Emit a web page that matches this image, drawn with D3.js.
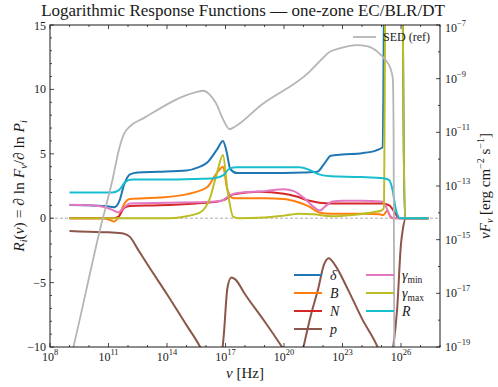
<!DOCTYPE html>
<html>
<head>
<meta charset="utf-8">
<script src="https://cdn.jsdelivr.net/npm/d3@7"></script>
<style>
body{margin:0;background:#fff;}
</style>
</head>
<body>
<div id="chart"></div>
<script>
// each point is [log10(nu), R]
var delta = [[9,1.02],[10,1.0],[10.8,0.95],[11.3,0.85],[11.55,1.3],[11.8,2.6],[12.1,3.4],[12.5,3.55],[13.6,3.6],[15,3.7],[15.6,3.95],[16.05,4.3],[16.55,5.3],[16.87,6.0],[17.05,5.2],[17.25,3.8],[17.6,3.5],[19,3.5],[21,3.55],[21.7,3.6],[22.05,4.2],[22.4,4.85],[23,4.95],[24,5.05],[24.7,5.25],[25.05,5.5],[25.25,40],[25.95,40],[26.2,0],[27.4,0]];
var bField = [[9,0],[10.8,0],[11.3,-0.25],[11.55,0.2],[11.8,1.1],[12.1,1.5],[13.6,1.6],[15,1.85],[16.05,2.4],[16.55,3.5],[16.87,4.0],[17.1,2.2],[17.4,1.55],[19,1.55],[20,1.5],[20.6,1.3],[21.3,0.9],[21.8,0.45],[22.4,0.35],[24,0.35],[24.9,0.3],[25.1,0.25],[25.3,0.6],[25.45,0.1],[25.6,0],[27.4,0]];
var nDens = [[9,0],[11.2,0],[11.5,0.1],[11.8,0.8],[12.1,0.95],[13.6,1.0],[15.5,1.15],[16.6,1.3],[16.9,1.4],[17.4,1.85],[18.7,2.05],[20,1.9],[20.6,1.7],[21.3,1.35],[22.3,1.15],[24,1.15],[25.05,1.15],[25.4,1.0],[25.7,0.4],[25.9,0],[27.4,0]];
var pIndex = [[9,-1.0],[10,-1.05],[11,-1.1],[11.8,-1.2],[12.1,-1.45],[12.5,-2.4],[13,-3.6],[14,-5.9],[15,-8.3],[15.7,-10],[16.2,-11.6],[16.55,-12.2],[16.75,-11.2],[16.9,-9.3],[17.1,-5.4],[17.3,-4.6],[17.5,-4.75],[18,-5.9],[19,-8.0],[19.9,-10],[20.5,-11.4],[20.8,-11.4],[21.0,-10],[21.4,-7.4],[21.75,-5.5],[22.05,-3.6],[22.3,-3.1],[22.6,-3.6],[23.3,-5.6],[24.0,-7.8],[24.8,-10],[25.2,-11.5],[25.45,-11.3],[25.6,-10],[25.8,-7.1],[26.0,-2.0],[26.1,-0.8],[26.25,0],[27.4,0]];
var gMin = [[9,1.05],[10,1.0],[10.8,0.85],[11.2,0.65],[11.5,0.45],[11.8,0.85],[12.1,1.15],[14,1.2],[16,1.25],[16.8,1.35],[17.2,1.75],[17.6,1.95],[19,2.1],[20,2.25],[20.5,2.1],[21.0,1.6],[21.5,0.9],[21.85,0.6],[22.1,0.9],[22.5,1.3],[23,1.35],[24,1.35],[25.0,1.3],[25.2,1.0],[25.4,0.3],[25.6,0],[27.4,0]];
var gMax = [[9,0],[14,0],[14.8,0.1],[15.7,0.45],[16.2,1.55],[16.56,3.5],[16.87,4.9],[17.1,2.2],[17.4,0.1],[17.7,0],[19,0.05],[20,0.2],[20.8,0.35],[21.5,0.3],[22.5,0.15],[23.5,0.25],[24.5,0.45],[25.0,0.6],[25.12,0.8],[25.27,40],[25.95,40],[26.2,0],[27.4,0]];
var rSize = [[9,2.0],[10,2.0],[11.2,2.0],[11.55,2.2],[11.85,2.8],[12.2,3.0],[14,3.0],[15.5,3.05],[16.4,3.1],[16.9,3.35],[17.2,3.85],[17.6,3.95],[19,3.95],[20.8,3.95],[21.3,3.75],[21.8,3.4],[22.4,3.25],[24,3.2],[25.1,3.1],[25.4,2.95],[25.55,2.3],[25.75,0.6],[25.95,0],[27.4,0]];
// reference SED, [log10(nu), log10(nuFnu)]
var sed = [[9,-19.6],[9.2,-19.0],[10.56,-14.64],[11.2,-12.78],[11.55,-11.6],[11.8,-11.05],[12.1,-10.78],[12.8,-10.47],[15.5,-9.5],[15.85,-9.45],[16.2,-9.6],[16.5,-9.9],[16.9,-10.55],[17.2,-10.88],[17.5,-10.78],[18.8,-10.0],[21.3,-8.75],[21.9,-8.3],[22.3,-8.02],[22.9,-7.86],[23.7,-7.75],[24.3,-7.8],[24.8,-8.0],[25.2,-8.3],[25.45,-8.6],[25.58,-9.0],[25.62,-11],[25.66,-20]];

var seriesNames = ['δ','B','N','p','γ','γ','R'];
var seriesSubs = ['','','','','min','max',''];
var seriesData = [delta,bField,nDens,pIndex,gMin,gMax,rSize];
var colors = ['#1f77b4','#ff7f0e','#d62728','#8c564b','#e377c2','#bcbd22','#17becf'];

var xTicks = [8,11,14,17,20,23,26];
var yTicks = [-10,-5,0,5,10,15];
var sedTicks = [-19,-17,-15,-13,-11,-9,-7];

var W = 498, H = 387;
var m = {l:50, r:58, t:25, b:40};
var w = W-m.l-m.r, h = H-m.t-m.b;
var serif = '"Liberation Serif", "Times New Roman", serif';

var svg = d3.select('#chart').append('svg')
			.attr('width',W)
			.attr('height',H)
			.style('font-family',serif)
			.attr('fill','#1a1a1a');

var x = d3.scaleLog().domain([1e8,1e28]).range([m.l,m.l+w]);
var y = d3.scaleLinear().domain([-10,15]).range([m.t+h,m.t]);
var y2 = d3.scaleLog().domain([1e-19,1e-7]).range([m.t+h,m.t]);

svg.append('clipPath').attr('id','clip')
	.append('rect').attr('x',m.l).attr('y',m.t).attr('width',w).attr('height',h);

var plot = svg.append('g').attr('clip-path','url(#clip)');

//zero line
plot.append('line')
	.attr('x1',m.l).attr('x2',m.l+w)
	.attr('y1',y(0)).attr('y2',y(0))
	.attr('stroke','#999').attr('stroke-width',0.8)
	.attr('stroke-dasharray','3,2');

var line = d3.line()
			.x(function(d){return x(Math.pow(10,d[0]));})
			.y(function(d){return y(d[1]);})
			.curve(d3.curveMonotoneX);

plot.selectAll('path.resp').data(seriesData)
	.enter().append('path')
	.attr('class','resp')
	.attr('d',line)
	.attr('fill','none')
	.attr('stroke',function(d,i){return colors[i];})
	.attr('stroke-width',2);

var sedLine = d3.line()
			.x(function(d){return x(Math.pow(10,d[0]));})
			.y(function(d){return y2(Math.pow(10,d[1]));})
			.curve(d3.curveMonotoneX);

plot.append('path')
	.attr('d',sedLine(sed))
	.attr('fill','none')
	.attr('stroke','#b5b5b5')
	.attr('stroke-width',1.8);

//axes
var ax = svg.append('g').attr('stroke','#1a1a1a');

ax.append('rect')
	.attr('x',m.l).attr('y',m.t).attr('width',w).attr('height',h)
	.attr('fill','none').attr('stroke-width',1);

function tick(x1,y1,x2,y2){
	ax.append('line').attr('x1',x1).attr('y1',y1).attr('x2',x2).attr('y2',y2).attr('stroke-width',0.8);
}

//x ticks, major every 3 decades, minor each decade
d3.range(8,29).forEach(function(k){
	var px = x(Math.pow(10,k));
	var len = xTicks.indexOf(k) >= 0 ? 4 : 2;
	tick(px,m.t+h,px,m.t+h-len);
	tick(px,m.t,px,m.t+len);
});
d3.range(-10,16).forEach(function(v){
	var len = yTicks.indexOf(v) >= 0 ? 4 : 2;
	tick(m.l,y(v),m.l+len,y(v));
});
d3.range(-19,-6).forEach(function(k){
	var len = sedTicks.indexOf(k) >= 0 ? 4 : 2;
	tick(m.l+w,y2(Math.pow(10,k)),m.l+w-len,y2(Math.pow(10,k)));
});

function pow10(sel,base,exp,anchor){
	sel.attr('text-anchor',anchor);
	sel.append('tspan').text(base);
	sel.append('tspan').attr('dy',-6).attr('font-size',8.5).text(exp);
}

svg.selectAll('text.xt').data(xTicks).enter().append('text')
	.attr('class','xt')
	.attr('x',function(d){return x(Math.pow(10,d));})
	.attr('y',m.t+h+14)
	.attr('font-size',12)
	.each(function(d){pow10(d3.select(this),'10',d,'middle');});

svg.selectAll('text.yt').data(yTicks).enter().append('text')
	.attr('class','yt')
	.attr('x',m.l-4)
	.attr('y',function(d){return y(d)+ (d===15 ? 5 : 4);})
	.attr('font-size',12)
	.attr('text-anchor','end')
	.text(function(d){return d < 0 ? '\u2212'+(-d) : d;});

svg.selectAll('text.y2t').data(sedTicks).enter().append('text')
	.attr('class','y2t')
	.attr('x',m.l+w+5)
	.attr('y',function(d){return y2(Math.pow(10,d))+ (d===-7 ? 7 : 4);})
	.attr('font-size',12)
	.each(function(d){pow10(d3.select(this),'10','\u2212'+(-d),'start');});

//title and labels
svg.append('text')
	.attr('x',243).attr('y',16)
	.attr('text-anchor','middle')
	.attr('font-size',17)
	.text('Logarithmic Response Functions \u2014 one-zone EC/BLR/DT');

svg.append('text')
	.attr('x',m.l+w/2).attr('y',378)
	.attr('text-anchor','middle')
	.attr('font-size',15)
	.html('<tspan font-style="italic">ν</tspan> [Hz]');

svg.append('text')
	.attr('transform','translate(24,'+(m.t+h/2)+') rotate(-90)')
	.attr('text-anchor','middle')
	.attr('font-size',15.5)
	.html('<tspan font-style="italic">R</tspan><tspan font-style="italic" font-size="10" dy="3">i</tspan><tspan dy="-3">(</tspan><tspan font-style="italic">ν</tspan>) = ∂ ln <tspan font-style="italic">F</tspan><tspan font-style="italic" font-size="10" dy="3">ν</tspan><tspan dy="-3">/∂ ln </tspan><tspan font-style="italic">P</tspan><tspan font-style="italic" font-size="10" dy="3">i</tspan>');

svg.append('text')
	.attr('transform','translate(490,'+(m.t+h/2)+') rotate(-90)')
	.attr('text-anchor','middle')
	.attr('font-size',15)
	.html('<tspan font-style="italic">νF</tspan><tspan font-style="italic" font-size="10" dy="3">ν</tspan><tspan dy="-3"> [erg cm</tspan><tspan font-size="10" dy="-6">−2</tspan><tspan dy="6"> s</tspan><tspan font-size="10" dy="-6">−1</tspan><tspan dy="6">]</tspan>');

//legend, two columns filled column-first
var legend = svg.append('g').attr('id','legend');
seriesNames.forEach(function(name,i){
	var col = i < 4 ? 0 : 1, row = i < 4 ? i : i-4;
	var lx = 294 + col*72, ly = 275 + row*18;
	legend.append('line')
		.attr('x1',lx).attr('x2',lx+28)
		.attr('y1',ly).attr('y2',ly)
		.attr('stroke',colors[i]).attr('stroke-width',2);
	var t = legend.append('text')
		.attr('x',lx+36).attr('y',ly+4.5)
		.attr('font-size',14);
	t.append('tspan').attr('font-style','italic').text(name);
	if (seriesSubs[i]) t.append('tspan').attr('font-size',9.5).attr('dy',3).text(seriesSubs[i]);
});

legend.append('line')
	.attr('x1',353).attr('x2',376).attr('y1',37).attr('y2',37)
	.attr('stroke','#b5b5b5').attr('stroke-width',1.8);
legend.append('text')
	.attr('x',383).attr('y',41)
	.attr('font-size',12)
	.text('SED (ref)');
</script>
</body>
</html>
